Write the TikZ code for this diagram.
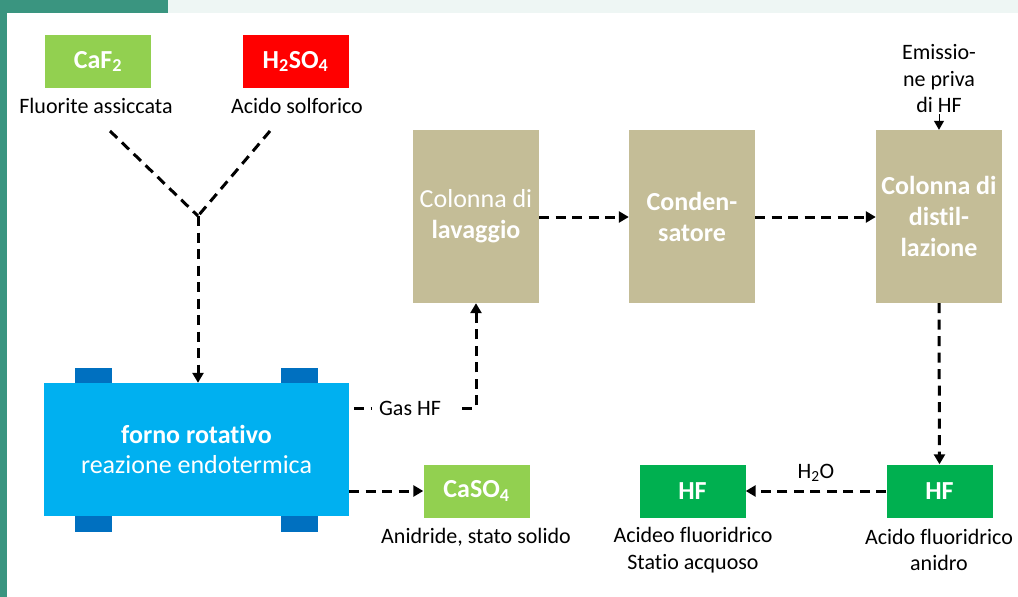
\documentclass[tikz,border=0pt]{standalone}
\usepackage{fontspec}
\setmainfont{Carlito}[Ligatures=NoCommon]
\usetikzlibrary{arrows.meta}

\definecolor{frame}{HTML}{3A9580}
\definecolor{band}{HTML}{EEF6F4}
\definecolor{lgreen}{HTML}{92D050}
\definecolor{acidred}{HTML}{FF0000}
\definecolor{tan}{HTML}{C4BD97}
\definecolor{kiln}{HTML}{00B0F0}
\definecolor{kilnfoot}{HTML}{0070C0}
\definecolor{hfgreen}{HTML}{00B050}

\tikzset{
  px/.style={x=1pt,y=-1pt},
  chem/.style={rectangle, inner sep=0pt, minimum width=106pt, minimum height=53pt,
    text=white, font=\fontsize{26}{31}\selectfont\bfseries},
  column/.style={rectangle, inner sep=0pt, minimum width=126pt, minimum height=173pt,
    fill=tan, text=white, align=center, font=\fontsize{26}{31}\selectfont},
  caption/.style={align=center, inner sep=1pt, font=\fontsize{22}{26.5}\selectfont},
  plainflow/.style={line width=3pt, dash pattern=on 10pt off 6.5pt},
  flow/.style={plainflow, -{Triangle[length=10pt,width=11pt]}},
}

\begin{document}
\begin{tikzpicture}[px]
\useasboundingbox (0,0) rectangle (1018,597);

% page frame
\fill[band] (168,0) rectangle (1018,13);
\fill[frame] (0,0) rectangle (168,13);
\fill[frame] (0,0) rectangle (7,597);

% raw materials
\node[chem, fill=lgreen] (caf) at (98,61.5) {CaF\textsubscript{2}};
\node[caption] (cafl) at (96,106) {Fluorite assiccata};
\node[chem, fill=acidred] (hso) at (295.5,61.5) {H\textsubscript{2}SO\textsubscript{4}};
\node[caption] (hsol) at (297,106) {Acido solforico};

% rotary kiln with its supports
\fill[kilnfoot] (75,368) rectangle (112,532);
\fill[kilnfoot] (281,368) rectangle (318,532);
\node[rectangle, inner sep=0pt, minimum width=305pt, minimum height=133pt, fill=kiln,
  text=white, align=center, font=\fontsize{26}{30}\selectfont] (forno) at (196.5,449.5)
  {\textbf{forno rotativo}\\reazione endotermica};

% feed lines merging into the kiln
\coordinate (ls) at (110,131);
\coordinate (rs) at (270,131);
\coordinate (j) at (198,216);
\draw[plainflow] (ls) -- (j);
\draw[plainflow] (rs) -- (j);
\draw[flow] (j) -- (forno.north -| j);

% solid by-product
\node[chem, fill=lgreen] (caso) at (476.5,491) {CaSO\textsubscript{4}};
\node[caption] (casol) at (476,537) {Anidride, stato solido};
\draw[flow] (forno.east |- caso) -- (caso.west);

% gas treatment train
\node[column] (lav) at (476,216.5) {Colonna di\\\textbf{lavaggio}};
\node[column] (cond) at (692,216.5) {\textbf{Conden-}\\\textbf{satore}};
\node[column] (dist) at (939,216.5) {\textbf{Colonna di}\\\textbf{distil-}\\\textbf{lazione}};

\node[caption] (gas) at (410,408) {Gas HF};
\draw[plainflow] ([xshift=5pt]forno.east |- gas) -- ([xshift=-6pt]gas.west);
\draw[flow] ([xshift=20pt]gas.east) -| (lav.south);

\draw[flow] (lav.east |- 0,217) -- (cond.west |- 0,217);
\draw[flow] (cond.east |- 0,217) -- (dist.west |- 0,217);

\node[caption] (emi) at (939,79) {Emissio-\\ne priva\\di HF};
\draw[line width=1pt, -{Triangle[length=9pt,width=10pt]}] (emi.south) -- (dist.north);

% hydrofluoric acid products
\node[chem, fill=hfgreen] (hfa) at (939.5,491) {HF};
\node[caption] (hfal) at (939,550) {Acido fluoridrico\\anidro};
\node[chem, fill=hfgreen] (hfw) at (692.5,491) {HF};
\node[caption] (hfwl) at (693,550) {Acideo fluoridrico\\Statio acquoso};

\draw[flow] (dist.south) -- (hfa.north);
\draw[flow] (hfa.west) -- (hfw.east)
  node[midway, above=7pt, caption] (water) {H\textsubscript{2}O};
\end{tikzpicture}
\end{document}
